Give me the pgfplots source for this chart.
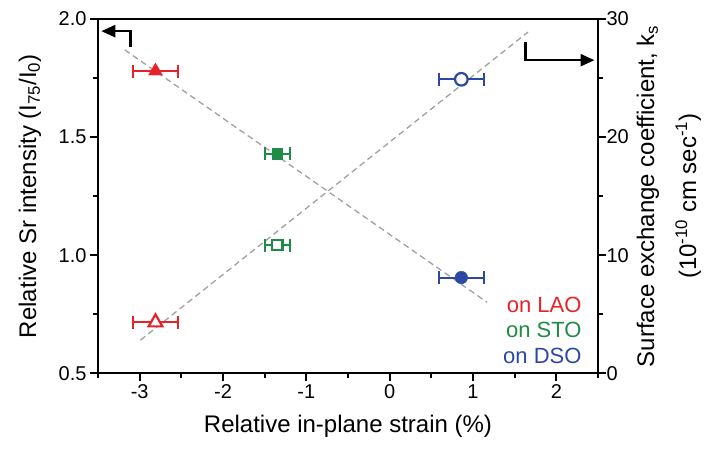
\documentclass[border=0pt]{standalone}
\usepackage{fontspec}
\setmainfont{Liberation Sans}
\usepackage{pgfplots}
\pgfplotsset{compat=1.18}
\usetikzlibrary{arrows.meta}

\definecolor{lao}{RGB}{232,34,40}
\definecolor{sto}{RGB}{30,140,70}
\definecolor{dso}{RGB}{44,72,162}
\definecolor{fitgray}{RGB}{160,160,160}

\pgfplotsset{
  ebar/.style={
    error bars/.cd, x dir=both, x explicit,
    error bar style={line width=2pt, #1},
    error mark=|,
    error mark options={line width=2pt, mark size=6.5pt, #1},
  },
}

\begin{document}
\begin{tikzpicture}
% left axis: Sr intensity (filled markers)
\begin{axis}[
  scale only axis, width=500pt, height=354pt,
  xmin=-3.5, xmax=2.5, ymin=0.5, ymax=2.0,
  clip=false,
  axis line style={line width=2.2pt},
  tick align=outside,
  major tick length=8pt, minor tick length=5pt,
  tick style={black, line width=1.8pt},
  xtick={-3,-2,-1,0,1,2},
  xticklabels={-3,-2,-1,0,1,2},
  minor xtick={-3.5,-2.5,-1.5,-0.5,0.5,1.5,2.5},
  ytick={0.5,1.0,1.5,2.0},
  yticklabels={0.5,1.0,1.5,2.0},
  minor ytick={0.75,1.25,1.75},
  xtick pos=left, ytick pos=left,
  tick label style={font=\fontsize{20}{24}\selectfont},
  label style={font=\fontsize{24}{28}\selectfont},
  xlabel={Relative in-plane strain (\%)},
  xlabel style={at={(rel axis cs:0.5,-0.150)}, anchor=center},
  ylabel={Relative Sr intensity (I\textsubscript{75}/I\textsubscript{0})},
  ylabel style={at={(rel axis cs:-0.136,0.5)}, anchor=center},
]
% frame of the whole picture
\path (rel axis cs:-0.196,-0.223) rectangle (rel axis cs:1.246,1.054);
\addplot[fitgray, line width=1.3pt, dash pattern=on 6pt off 4pt, no marks]
  coordinates {(-3.18,1.87) (1.17,0.80)};
\addplot[lao, only marks, mark=triangle*, mark size=8pt, ebar=lao]
  coordinates {(-2.81,1.78) +- (0.27,0)};
\addplot[sto, only marks, mark=square*, mark size=5.3pt, ebar=sto]
  coordinates {(-1.35,1.43) +- (0.15,0)};
\addplot[dso, only marks, mark=*, mark size=6.3pt, ebar=dso]
  coordinates {(0.86,0.905) +- (0.27,0)};
\draw[line width=2.5pt, -{Triangle[length=14pt,width=12pt]}]
  (axis cs:-3.11,1.881) -- (axis cs:-3.11,1.949) -- (axis cs:-3.46,1.949);
\draw[line width=2.5pt, -{Triangle[length=14pt,width=12pt]}]
  (axis cs:1.627,1.903) -- (axis cs:1.627,1.826) -- (axis cs:2.458,1.826);
\node[anchor=east, text=lao, font=\fontsize{22}{26}\selectfont] at (rel axis cs:0.974,0.192) {on LAO};
\node[anchor=east, text=sto, font=\fontsize{22}{26}\selectfont] at (rel axis cs:0.974,0.121) {on STO};
\node[anchor=east, text=dso, font=\fontsize{22}{26}\selectfont] at (rel axis cs:0.974,0.048) {on DSO};
\end{axis}
% right axis: surface exchange coefficient (open markers)
\begin{axis}[
  scale only axis, width=500pt, height=354pt,
  xmin=-3.5, xmax=2.5, ymin=0, ymax=30,
  clip=false,
  axis line style={line width=2.2pt},
  axis x line=none, axis y line*=right,
  tick align=outside,
  major tick length=8pt, minor tick length=5pt,
  tick style={black, line width=1.8pt},
  ytick={0,10,20,30},
  yticklabels={0,10,20,30},
  minor ytick={5,15,25},
  tick label style={font=\fontsize{20}{24}\selectfont},
  yticklabel style={xshift=-3pt},
  ylabel style={align=center, font=\fontsize{24}{42}\selectfont,
    at={(rel axis cs:1.142,0.5)}, anchor=center},
  ylabel={Surface exchange coefficient, k\textsubscript{s}\\(10\textsuperscript{-10} cm sec\textsuperscript{-1})},
]
\addplot[fitgray, line width=1.3pt, dash pattern=on 6pt off 4pt, no marks]
  coordinates {(-2.99,2.8) (1.66,28.9)};
\addplot[lao, only marks, mark=triangle*, mark size=8pt, mark options={fill=white, line width=2.2pt}, ebar=lao]
  coordinates {(-2.81,4.3) +- (0.27,0)};
\addplot[sto, only marks, mark=square*, mark size=5.3pt, mark options={fill=white, line width=2.2pt}, ebar=sto]
  coordinates {(-1.35,10.85) +- (0.15,0)};
\addplot[dso, only marks, mark=*, mark size=6.3pt, mark options={fill=white, line width=2.2pt}, ebar=dso]
  coordinates {(0.86,24.9) +- (0.27,0)};
% tick marks drawn last (bottom, left, right); right scale k = 20*(y-0.5)
\pgfplotsinvokeforeach{-3,-2,-1,0,1,2}{
  \draw[black, line width=1.8pt] (axis cs:#1,0) -- ++(0pt,-8pt);}
\pgfplotsinvokeforeach{-3.5,-2.5,-1.5,-0.5,0.5,1.5,2.5}{
  \draw[black, line width=1.8pt] (axis cs:#1,0) -- ++(0pt,-5pt);}
\pgfplotsinvokeforeach{0,10,20,30}{
  \draw[black, line width=1.8pt] (axis cs:-3.5,#1) -- ++(-8pt,0pt);
  \draw[black, line width=1.8pt] (axis cs:2.5,#1) -- ++(8pt,0pt);}
\pgfplotsinvokeforeach{5,15,25}{
  \draw[black, line width=1.8pt] (axis cs:-3.5,#1) -- ++(-5pt,0pt);
  \draw[black, line width=1.8pt] (axis cs:2.5,#1) -- ++(5pt,0pt);}
\end{axis}
\end{tikzpicture}
\end{document}
